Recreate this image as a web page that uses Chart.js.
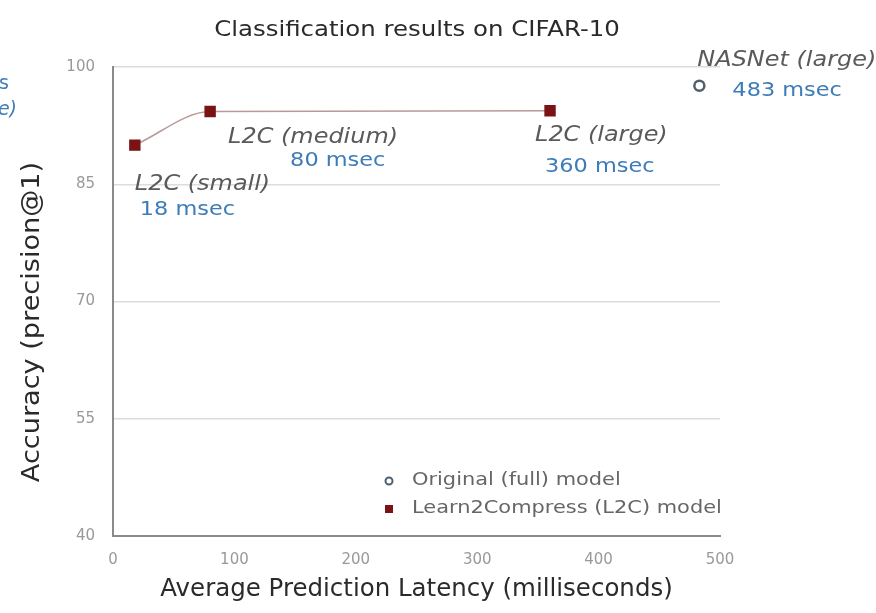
<!DOCTYPE html>
<html>
<head>
<meta charset="utf-8">
<script src="https://cdn.jsdelivr.net/npm/chart.js@4"></script>
<style>
  html, body { margin: 0; padding: 0; background: #fff; }
  #wrap { width: 876px; height: 613px; }
</style>
</head>
<body>
<div id="wrap"><canvas id="myChart" width="876" height="613"></canvas></div>
<script>
// data
const l2cNames = ['L2C (small)', 'L2C (medium)', 'L2C (large)'];
const l2cLatency = [18, 80, 360];
const l2cAccuracy = [90.0, 94.3, 94.4];

const fullNames = ['NASNet (large)'];
const fullLatency = [483];
const fullAccuracy = [97.6];

const xTicks = [0, 100, 200, 300, 400, 500];
const yTicks = [40, 55, 70, 85, 100];

const blue = '#3d7cb8';
const labelGray = '#5a5a5a';
const font = '"DejaVu Sans", "Liberation Sans", sans-serif';

// where each label sits relative to its point (pixels)
const labelOffsets = {
    'L2C (small)': { name: [0, 39], ms: [5, 65] },
    'L2C (medium)': { name: [18, 26], ms: [80, 50] },
    'L2C (large)': { name: [-15, 25], ms: [-5, 56] },
    'NASNet (large)': { name: [-2, -25], ms: [33, 5] }
};

// the source text is a little wider than DejaVu, so stretch it along the line
function wideText(ctx, text, x, y, sx, angle) {
    ctx.save();
    ctx.translate(x, y);
    if (angle) ctx.rotate(angle);
    ctx.scale(sx, 1);
    ctx.fillText(text, 0, 0);
    ctx.restore();
}

const annotate = {
    id: 'annotate',
    afterDatasetsDraw(chart) {
        const ctx = chart.ctx;
        const xs = chart.scales.x, ys = chart.scales.y;
        const area = chart.chartArea;
        ctx.save();
        ctx.textBaseline = 'middle';
        ctx.textAlign = 'left';

        const put = (names, lat, acc) => {
            names.forEach((n, i) => {
                const px = xs.getPixelForValue(lat[i]);
                const py = ys.getPixelForValue(acc[i]);
                const off = labelOffsets[n];
                ctx.font = 'italic 21px ' + font;
                ctx.fillStyle = labelGray;
                wideText(ctx, n, px + off.name[0], py + off.name[1], 1.14);
                ctx.font = '19px ' + font;
                ctx.fillStyle = blue;
                wideText(ctx, lat[i] + ' msec', px + off.ms[0], py + off.ms[1], 1.18);
            });
        };
        put(l2cNames, l2cLatency, l2cAccuracy);
        put(fullNames, fullLatency, fullAccuracy);

        // cut-off text from a neighbouring label at the left edge
        ctx.textAlign = 'right';
        ctx.font = '19px ' + font;
        ctx.fillStyle = blue;
        ctx.fillText('s', 9, 84);
        ctx.font = 'italic 19px ' + font;
        ctx.fillText('e)', 17, 110);

        // title
        ctx.textAlign = 'center';
        ctx.font = '22px ' + font;
        ctx.fillStyle = '#2a2a2a';
        wideText(ctx, 'Classification results on CIFAR-10', 417, 30, 1.11);

        // axis titles
        ctx.font = '24px ' + font;
        wideText(ctx, 'Average Prediction Latency (milliseconds)', (area.left + area.right) / 2, 590, 1.02);
        wideText(ctx, 'Accuracy (precision@1)', 33, 322, 1.13, -Math.PI / 2);

        // legend in the lower right of the plot
        ctx.textAlign = 'left';
        ctx.font = '17px ' + font;
        ctx.fillStyle = '#666';
        wideText(ctx, 'Original (full) model', 412, 481, 1.23);
        wideText(ctx, 'Learn2Compress (L2C) model', 412, 509, 1.23);
        ctx.beginPath();
        ctx.arc(389, 481, 3.5, 0, Math.PI * 2);
        ctx.strokeStyle = '#4e5f6e';
        ctx.lineWidth = 2;
        ctx.stroke();
        ctx.fillStyle = '#7a1414';
        ctx.fillRect(385, 505, 8, 8);
        ctx.restore();
    }
};

const ctx = document.getElementById('myChart').getContext('2d');
new Chart(ctx, {
    type: 'scatter',
    data: {
        datasets: [{
            label: 'Learn2Compress (L2C) model',
            data: l2cLatency.map((x, i) => ({ x: x, y: l2cAccuracy[i] })),
            showLine: true,
            cubicInterpolationMode: 'monotone',
            borderColor: '#b89a9a',
            borderWidth: 1.5,
            pointStyle: 'rect',
            pointRadius: 7,
            pointBackgroundColor: '#7a1414',
            pointBorderColor: '#7a1414'
        }, {
            label: 'Original (full) model',
            data: fullLatency.map((x, i) => ({ x: x, y: fullAccuracy[i] })),
            pointStyle: 'circle',
            pointRadius: 5,
            pointBorderWidth: 2.5,
            pointBackgroundColor: '#fff',
            pointBorderColor: '#4e5f6e'
        }]
    },
    options: {
        responsive: false,
        animation: false,
        layout: { padding: { left: 0, right: 156, top: 67, bottom: 0 } },
        plugins: {
            legend: { display: false },
            title: { display: false },
            tooltip: { enabled: false }
        },
        scales: {
            x: {
                type: 'linear',
                min: 0,
                max: 500,
                afterBuildTicks: s => { s.ticks = xTicks.map(v => ({ value: v })); },
                afterFit: s => { s.height = 77; },
                grid: { display: false, drawTicks: false },
                border: { color: '#8a8a8a', width: 2 },
                ticks: { color: '#999', padding: 15, font: { family: font, size: 15 } },
                title: { display: false }
            },
            y: {
                type: 'linear',
                min: 40,
                max: 100,
                afterBuildTicks: s => { s.ticks = yTicks.map(v => ({ value: v })); },
                afterFit: s => { s.width = 113; },
                grid: { color: '#dcdcdc', lineWidth: 1.5, drawTicks: false },
                border: { color: '#8a8a8a', width: 2 },
                ticks: { color: '#999', padding: 18, font: { family: font, size: 15 } },
                title: { display: false }
            }
        }
    },
    plugins: [annotate]
});
</script>
</body>
</html>
